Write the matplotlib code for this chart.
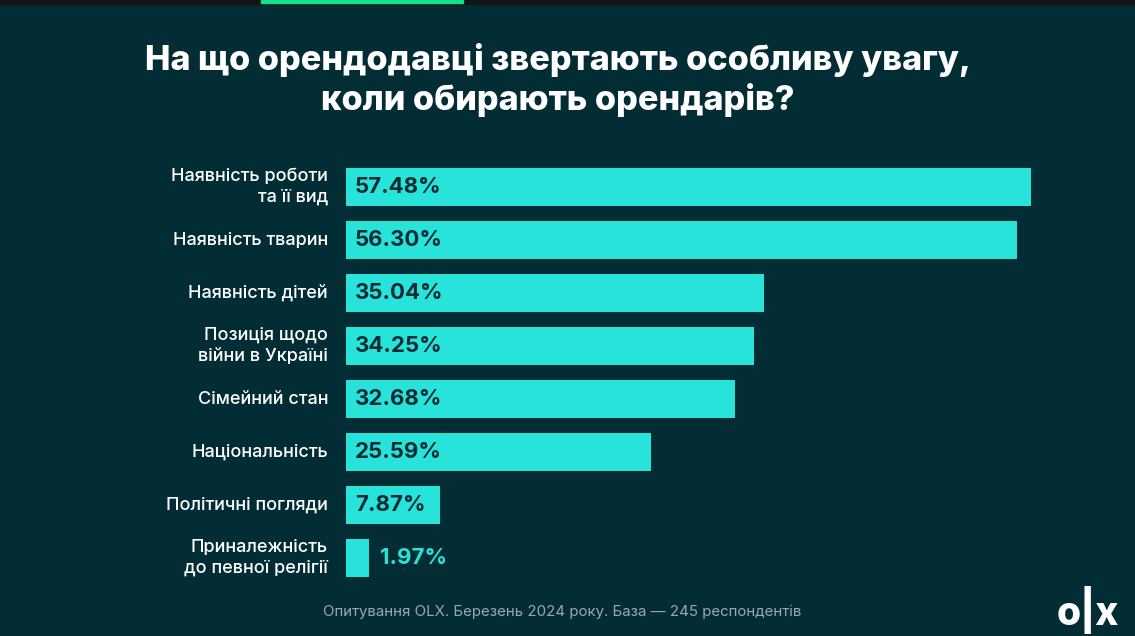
import matplotlib.pyplot as plt
from matplotlib.patches import Rectangle

plt.rcParams['font.family'] = ['Inter', 'DejaVu Sans']

# дані опитування
categories = [
    "Наявність роботи\nта її вид",
    "Наявність тварин",
    "Наявність дітей",
    "Позиція щодо\nвійни в Україні",
    "Сімейний стан",
    "Національність",
    "Політичні погляди",
    "Приналежність\nдо певної релігії",
]
values = [57.48, 56.30, 35.04, 34.25, 32.68, 25.59, 7.87, 1.97]
value_labels = ["57.48%", "56.30%", "35.04%", "34.25%", "32.68%", "25.59%", "7.87%", "1.97%"]

BG = "#032d35"
BAR = "#27e3da"
DARK = "#0b2b33"

W, H = 1135, 636
fig = plt.figure(figsize=(W / 100, H / 100), dpi=100, facecolor=BG)

# верхня смужка (як у скріншоті)
fig.patches.append(Rectangle((0, 1 - 4 / H), 1, 4 / H, transform=fig.transFigure,
                             color="#111414", zorder=0))
fig.patches.append(Rectangle((261 / W, 1 - 3 / H), 202 / W, 3 / H, transform=fig.transFigure,
                             color="#12e38a", zorder=1))

# осі: 1% = ~11.92 px, крок між барами 53 px
ax = fig.add_axes([346 / W, 1 - 584.5 / H, 715 / W, 424 / H])
ax.set_facecolor(BG)
ax.set_xlim(0, 60)
ax.set_ylim(len(values) - 0.5, -0.5)
ax.axis("off")

ypos = list(range(len(values)))
ax.barh(ypos, values, height=0.70, color=BAR)

for i, (lbl, v, vl) in enumerate(zip(categories, values, value_labels)):
    ax.annotate(lbl, xy=(0, i), xycoords=("axes fraction", "data"),
                xytext=(-18 * 0.72, 0), textcoords="offset points",
                ha="right", va="center", multialignment="right",
                color="white", fontsize=13, fontweight="medium", linespacing=1.3)
    if v > 5:
        ax.annotate(vl, xy=(0, i), xytext=(9 * 0.72, 0), textcoords="offset points",
                    ha="left", va="center", color=DARK, fontsize=16, fontweight="bold")
    else:
        ax.annotate(vl, xy=(v, i), xytext=(11 * 0.72, 0), textcoords="offset points",
                    ha="left", va="center", color=BAR, fontsize=16, fontweight="bold")

fig.text(558 / W, 1 - 80 / H, "На що орендодавці звертають особливу увагу,\nколи обирають орендарів?",
         ha="center", va="center", color="white", fontsize=24.6, fontweight="heavy",
         linespacing=1.25)

fig.text(562 / W, 1 - 612 / H, "Опитування OLX. Березень 2024 року. База — 245 респондентів",
         ha="center", va="center", color="#9aa9ad", fontsize=10.8)

fig.text(1088 / W, 1 - 610 / H, "o|x", ha="center", va="center", color="white",
         fontsize=28, fontweight="heavy")

fig.savefig("out.png", dpi=100, facecolor=BG)
